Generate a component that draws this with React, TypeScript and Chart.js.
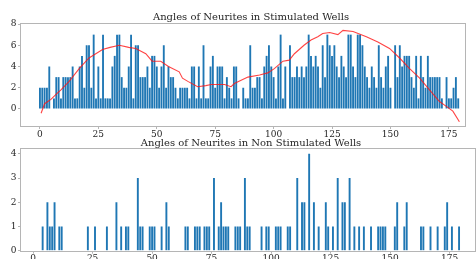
import React, { useEffect, useRef } from "react";
import { Chart, registerables } from "chart.js";

Chart.register(...registerables);

// ---------- data ----------
const stimTitle = "Angles of Neurites in Stimulated Wells";
const nonStimTitle = "Angles of Neurites in Non Stimulated Wells";

// counts per angle 0..179 (stimulated)
const stimCounts = [
  2, 2, 2, 2, 4, 0, 1, 3, 3, 1,
  3, 3, 3, 3, 4, 1, 1, 4, 5, 2,
  6, 6, 2, 7, 1, 4, 1, 7, 1, 1,
  1, 4, 5, 7, 7, 3, 2, 2, 4, 7,
  1, 6, 6, 3, 3, 3, 4, 2, 5, 5,
  4, 2, 4, 6, 2, 4, 3, 3, 2, 1,
  2, 2, 2, 2, 1, 4, 4, 1, 4, 1,
  6, 1, 1, 4, 5, 2, 4, 4, 4, 1,
  3, 2, 1, 4, 4, 1, 0, 2, 1, 1,
  6, 2, 2, 3, 3, 1, 4, 5, 6, 4,
  3, 1, 4, 7, 1, 4, 0, 6, 3, 3,
  4, 3, 4, 3, 4, 7, 5, 4, 5, 4,
  2, 6, 3, 7, 6, 5, 6, 4, 3, 5,
  4, 3, 7, 7, 4, 3, 7, 7, 6, 4,
  3, 2, 4, 3, 2, 6, 3, 2, 4, 5,
  2, 0, 6, 3, 6, 4, 5, 5, 5, 3,
  2, 5, 1, 5, 3, 2, 5, 3, 3, 3,
  3, 3, 1, 0, 3, 1, 1, 2, 3, 1,
];

// smoothed trend line (stimulated)
const trendX = [
  0.5, 2, 4.7, 7, 9, 12.5, 16.8, 21, 26.8, 30, 34, 38, 41, 45.3, 48, 51.7, 55,
  59.6, 61, 63.3, 67.5, 71, 73.3, 79, 81.8, 83.2, 89, 94, 97.5, 100.3, 104,
  106.7, 108.9, 113, 116, 118.9, 121, 124, 127.5, 129.7, 134, 139.7, 144.6,
  149.6, 153.9, 158.2, 162.5, 166.7, 171, 173.9, 176.7, 179.5,
];
const trendY = [
  -0.4, 0.5, 0.9, 1.4, 1.8, 2.6, 3.8, 4.8, 5.6, 5.8, 6.0, 5.8, 5.7, 5.2, 4.5,
  4.5, 4.0, 3.5, 2.9, 2.6, 2.1, 2.2, 2.3, 2.3, 2.1, 2.4, 3.0, 3.2, 3.4, 3.8,
  4.5, 4.6, 5.2, 6.0, 6.5, 6.8, 7.1, 7.2, 7.0, 7.4, 7.3, 6.8, 6.3, 5.7, 4.8,
  3.8, 2.9, 1.8, 0.7, 0.25, -0.2, -1.2,
];

// non stimulated: angle / count pairs
const nonStimAngles = [
  4, 6, 7, 8, 9, 11, 12, 23, 26, 31, 35, 37, 39, 40, 44, 45, 46, 49, 50, 51,
  54, 56, 57, 64, 65, 68, 69, 70, 72, 73, 74, 76, 78, 79, 80, 81, 82, 85, 86,
  87, 89, 90, 91, 96, 98, 99, 102, 103, 104, 107, 108, 111, 113, 114, 116, 118,
  120, 123, 124, 126, 128, 130, 131, 133, 135, 137, 139, 142, 145, 146, 147,
  148, 152, 153, 156, 157, 163, 164, 167, 170, 173, 174, 176, 179,
];
const nonStimCounts = [
  1, 2, 1, 1, 2, 1, 1, 1, 1, 1, 2, 1, 1, 1, 3, 1, 1, 1, 1, 1,
  1, 2, 1, 1, 1, 1, 1, 1, 1, 1, 1, 3, 1, 2, 1, 1, 1, 1, 1,
  1, 3, 1, 1, 1, 1, 1, 1, 1, 1, 1, 1, 3, 2, 2, 4, 2,
  1, 2, 1, 1, 3, 2, 2, 3, 1, 1, 1, 1, 1, 1, 1,
  1, 1, 2, 1, 2, 1, 1, 1, 1, 1, 2, 1, 1,
];

const xTicks = [0, 25, 50, 75, 100, 125, 150, 175];
const stimYTicks = [0, 2, 4, 6, 8];
const nonStimYTicks = [0, 1, 2, 3, 4];

// ---------- styling ----------
const FONT = "'DejaVu Serif', 'Liberation Serif', serif";
const BAR = "#1f77b4";
const FRAME = "#b5b5b5";
const TEXT = "#262626";
const TITLE_SIZE = 10;
const TITLE_CENTER_X = 251;

const framePlugin = {
  id: "frame",
  beforeDatasetsDraw(chart: any) {
    const { ctx, chartArea: a } = chart;
    ctx.save();
    ctx.strokeStyle = FRAME;
    ctx.lineWidth = 1;
    ctx.strokeRect(
      Math.round(a.left) - 0.5,
      Math.round(a.top) - 0.5,
      Math.round(a.right - a.left) + 1,
      Math.round(a.bottom - a.top) + 1
    );
    ctx.restore();
  },
};

// draws the title text centred at a fixed x (the Chart.js title only reserves space)
const offsetTitlePlugin = {
  id: "offsetTitle",
  afterDraw(chart: any) {
    const tb = chart.titleBlock;
    const opts = chart.options.plugins.title;
    if (!tb || !opts) return;
    const padTop = (opts.padding && opts.padding.top) || 0;
    const lh = TITLE_SIZE * 1.1;
    const { ctx } = chart;
    ctx.save();
    ctx.fillStyle = TEXT;
    ctx.font = `${TITLE_SIZE}px ${FONT}`;
    ctx.textAlign = "center";
    ctx.textBaseline = "middle";
    ctx.fillText(opts.text, TITLE_CENTER_X, tb.top + padTop + lh / 2);
    ctx.restore();
  },
};

function axisX(min: number, max: number, height: number) {
  return {
    type: "linear" as const,
    min,
    max,
    offset: false,
    grid: { display: true, drawOnChartArea: false, drawTicks: true, tickLength: 3, color: FRAME, offset: false },
    border: { display: false },
    ticks: { font: { family: FONT, size: 9 }, color: TEXT, padding: 0, maxRotation: 0, autoSkip: false },
    afterBuildTicks: (s: any) => {
      s.ticks = xTicks.map((v) => ({ value: v }));
    },
    afterFit: (s: any) => {
      s.height = height;
    },
  };
}

function axisY(min: number, max: number, ticks: number[]) {
  return {
    type: "linear" as const,
    min,
    max,
    grid: { display: true, drawOnChartArea: false, drawTicks: true, tickLength: 3, color: FRAME },
    border: { display: false },
    ticks: { font: { family: FONT, size: 9 }, color: TEXT, padding: 1.5 },
    afterBuildTicks: (s: any) => {
      s.ticks = ticks.map((v) => ({ value: v }));
    },
    afterFit: (s: any) => {
      s.width = 21;
    },
  };
}

function titleOpts(text: string, top: number, bottom: number) {
  return {
    display: true,
    text,
    color: "rgba(0,0,0,0)",
    font: { family: FONT, size: TITLE_SIZE, weight: "normal", lineHeight: 1.1 },
    padding: { top, bottom },
  };
}

export default function App() {
  const topRef = useRef<HTMLCanvasElement>(null);
  const botRef = useRef<HTMLCanvasElement>(null);

  useEffect(() => {
    const top = new Chart(topRef.current!, {
      type: "bar",
      data: {
        datasets: [
          {
            type: "line",
            data: trendX.map((x, i) => ({ x, y: trendY[i] })),
            borderColor: "rgba(255,20,20,0.8)",
            borderWidth: 1.1,
            pointRadius: 0,
            tension: 0,
            order: 0,
          } as any,
          {
            type: "bar",
            data: stimCounts.map((y, i) => ({ x: i, y })),
            backgroundColor: BAR,
            borderWidth: 0,
            barPercentage: 0.8,
            categoryPercentage: 1,
            order: 1,
          } as any,
        ],
      },
      options: {
        responsive: false,
        animation: false,
        layout: { padding: { left: 0, right: 11, top: 0, bottom: 0 } },
        plugins: {
          legend: { display: false },
          tooltip: { enabled: false },
          title: titleOpts(stimTitle, 11.5, 1.5),
        },
        scales: {
          x: axisX(-8.1, 181.9, 12),
          y: axisY(-1.6, 8, stimYTicks),
        },
      } as any,
      plugins: [framePlugin, offsetTitlePlugin],
    });

    const bottom = new Chart(botRef.current!, {
      type: "bar",
      data: {
        datasets: [
          {
            type: "bar",
            data: nonStimAngles.map((x, i) => ({ x, y: nonStimCounts[i] })),
            backgroundColor: BAR,
            borderWidth: 0,
            barPercentage: 0.8,
            categoryPercentage: 1,
          } as any,
        ],
      },
      options: {
        responsive: false,
        animation: false,
        layout: { padding: { left: 0, right: 1, top: 0, bottom: 0 } },
        plugins: {
          legend: { display: false },
          tooltip: { enabled: false },
          title: titleOpts(nonStimTitle, 0, 0),
        },
        scales: {
          x: axisX(-5.1, 185.7, 14.3),
          y: axisY(0, 4.2, nonStimYTicks),
        },
      } as any,
      plugins: [framePlugin, offsetTitlePlugin],
    });

    return () => {
      top.destroy();
      bottom.destroy();
    };
  }, []);

  return (
    <div
      style={{
        position: "fixed",
        left: 0,
        top: 0,
        width: 476,
        height: 259,
        overflow: "hidden",
        background: "#ffffff",
      }}
    >
      <canvas
        ref={topRef}
        width={476}
        height={138}
        style={{ position: "absolute", left: 0, top: 0, width: 476, height: 138, display: "block" }}
      />
      <canvas
        ref={botRef}
        width={476}
        height={127}
        style={{ position: "absolute", left: 0, top: 138, width: 476, height: 127, display: "block" }}
      />
    </div>
  );
}
